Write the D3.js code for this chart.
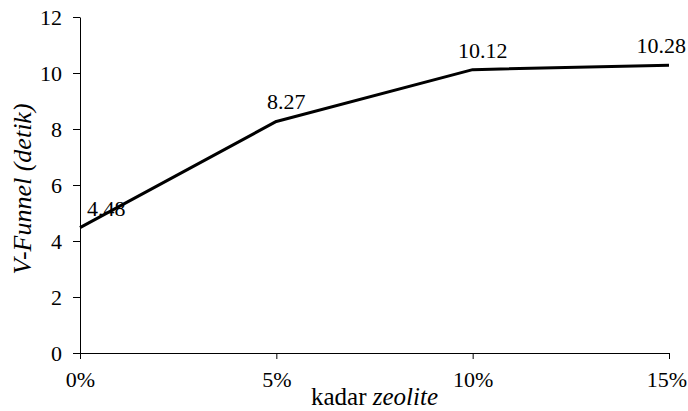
<!DOCTYPE html>
<html lang="en">
  <head>
    <meta charset="UTF-8" />
    <title>V-Funnel vs kadar zeolite</title>
    <script src="https://cdn.jsdelivr.net/npm/d3@7"></script>
    <style>
      body { margin: 0; background: #fff; }
    </style>
  </head>
  <body>
    <div id='app'></div>

    <script>
  // data
  const categories = ['0%', '5%', '10%', '15%']
  const values = [4.48, 8.27, 10.12, 10.28]
  const yTicks = [0, 2, 4, 6, 8, 10, 12]

  const width = 688
  const height = 411
  const margin = { top: 17, right: 19, bottom: 58, left: 80 }
  const fontSize = 22

  const svg = d3.select('#app').append('svg')
    .attr('width', width)
    .attr('height', height)
    .attr('font-family', 'Liberation Serif')
    .attr('font-size', fontSize)
    .attr('fill', '#000')

  const x = d3.scalePoint()
    .domain(categories)
    .range([margin.left, width - margin.right])
    .padding(0)

  const y = d3.scaleLinear()
    .domain([0, 12])
    .range([height - margin.bottom, margin.top])

  // x axis
  const xAxis = svg.append('g')
    .attr('transform', `translate(0,${height - margin.bottom})`)
    .call(d3.axisBottom(x).tickSize(6).tickSizeOuter(0))
    .attr('font-family', null)
    .attr('font-size', null)
  xAxis.selectAll('text')
    .attr('y', 34)
    .attr('dy', 0)
    .attr('fill', '#000')
    .each(function () {
      // keep the last label inside the picture
      const box = this.getBBox()
      const tx = d3.select(this.parentNode).attr('transform').match(/translate\(([-\d.]+)/)
      const right = +tx[1] + box.x + box.width
      if (right > width - 1) d3.select(this).attr('x', width - 1 - right)
    })
  xAxis.selectAll('line, path').attr('stroke', '#000')

  // y axis
  const yAxis = svg.append('g')
    .attr('transform', `translate(${margin.left},0)`)
    .call(d3.axisLeft(y).tickValues(yTicks).tickSize(7).tickSizeOuter(0).tickPadding(11))
    .attr('font-family', null)
    .attr('font-size', null)
  yAxis.selectAll('text').attr('fill', '#000')
  yAxis.selectAll('line, path').attr('stroke', '#000')

  // the line
  const line = d3.line()
    .x((d, i) => x(categories[i]))
    .y(d => y(d))

  svg.append('path')
    .datum(values)
    .attr('d', line)
    .attr('fill', 'none')
    .attr('stroke', '#000')
    .attr('stroke-width', 3)
    .attr('stroke-linejoin', 'round')

  // data labels, nudged to stay inside the chart
  svg.append('g')
    .selectAll('text')
    .data(values)
    .join('text')
      .attr('fill', '#000')
      .attr('y', d => y(d) - 12)
      .text(d => d.toFixed(2))
      .each(function (d, i) {
        const w = this.getComputedTextLength()
        let left = x(categories[i]) + 10 - w / 2
        left = Math.max(left, margin.left + 7)
        left = Math.min(left, width - 2 - w)
        d3.select(this).attr('x', left)
      })

  // axis titles
  svg.append('text')
    .attr('transform', `translate(31,${(margin.top + height - margin.bottom) / 2 + 4}) rotate(-90)`)
    .attr('text-anchor', 'middle')
    .attr('fill', '#000')
    .attr('font-size', 26)
    .attr('font-style', 'italic')
    .text('V-Funnel (detik)')

  const xTitle = svg.append('text')
    .attr('x', (margin.left + width - margin.right) / 2)
    .attr('y', 405)
    .attr('text-anchor', 'middle')
    .attr('fill', '#000')
    .attr('font-size', 25)
  xTitle.append('tspan').text('kadar ')
  xTitle.append('tspan').attr('font-style', 'italic').text('zeolite')
    </script>
  </body>
</html>
